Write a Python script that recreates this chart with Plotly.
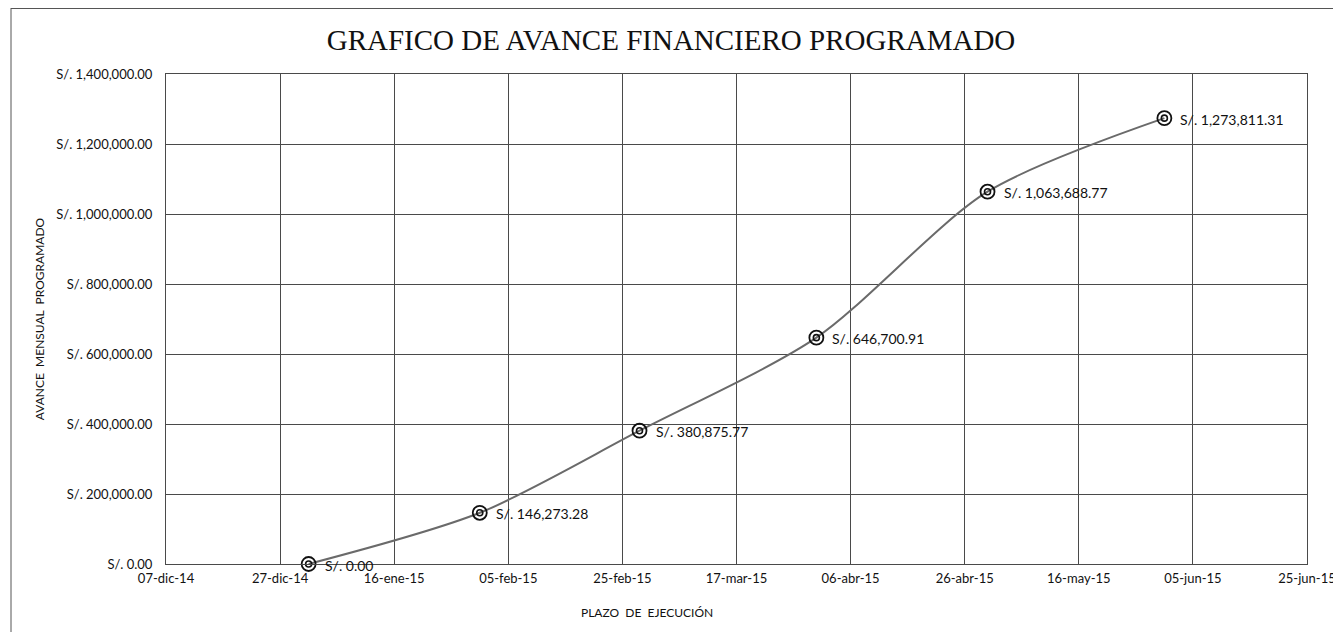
import plotly.graph_objects as go

fechas = ["2015-01-01", "2015-01-31", "2015-02-28", "2015-03-31", "2015-04-30", "2015-05-31"]
avance = [0.00, 146273.28, 380875.77, 646700.91, 1063688.77, 1273811.31]
etiquetas = ["S/. 0.00", "S/. 146,273.28", "S/. 380,875.77", "S/. 646,700.91",
             "S/. 1,063,688.77", "S/. 1,273,811.31"]

x_tickvals = ["2014-12-07", "2014-12-27", "2015-01-16", "2015-02-05", "2015-02-25",
              "2015-03-17", "2015-04-06", "2015-04-26", "2015-05-16", "2015-06-05", "2015-06-25"]
x_ticktext = ["07-dic-14", "27-dic-14", "16-ene-15", "05-feb-15", "25-feb-15",
              "17-mar-15", "06-abr-15", "26-abr-15", "16-may-15", "05-jun-15", "25-jun-15"]
y_tickvals = [0, 200000, 400000, 600000, 800000, 1000000, 1200000, 1400000]
y_ticktext = ["S/. 0.00", "S/. 200,000.00", "S/. 400,000.00", "S/. 600,000.00",
              "S/. 800,000.00", "S/. 1,000,000.00", "S/. 1,200,000.00", "S/. 1,400,000.00"]

fig = go.Figure()
fig.add_trace(go.Scatter(
    x=fechas, y=avance, mode="lines+markers",
    line=dict(shape="spline", smoothing=0.8, color="#6a6a6a", width=2),
    marker=dict(symbol="circle-open", size=14, color="#111111",
                line=dict(width=1.8, color="#111111")),
    cliponaxis=False, showlegend=False, hoverinfo="skip",
))
fig.add_trace(go.Scatter(
    x=fechas, y=avance, mode="markers",
    marker=dict(symbol="circle-open", size=6, color="#111111",
                line=dict(width=1.6, color="#111111")),
    cliponaxis=False, showlegend=False,
))

# data labels to the right of each point
for fx, fy, txt in zip(fechas, avance, etiquetas):
    fig.add_annotation(x=fx, y=fy, xref="x", yref="y", text=txt,
                       xanchor="left", yanchor="middle", xshift=14, yshift=-1,
                       showarrow=False,
                       font=dict(family="Lato", size=14, color="#111111"))

# figure is placed by the page with an 8px body margin
W, H = 1333, 624
L, R, T, B = 158, 34, 66, 68
pw, ph = W - L - R, H - T - B

grid = "#4a4a4a"
fig.update_layout(
    width=W, height=H,
    margin=dict(l=L, r=R, t=T, b=B),
    paper_bgcolor="white", plot_bgcolor="white",
    title=dict(text="GRAFICO DE AVANCE FINANCIERO PROGRAMADO",
               font=dict(family="Liberation Serif", size=29, color="#111111"),
               x=(671 - 8) / W, xanchor="center", y=1 - (40 - 8) / H, yanchor="middle"),
    xaxis=dict(type="date", range=["2014-12-07", "2015-06-25"],
               tickvals=x_tickvals, ticktext=x_ticktext,
               tickfont=dict(family="Lato", size=13, color="#111111"),
               showgrid=True, gridcolor=grid, gridwidth=1,
               showline=True, linecolor=grid, linewidth=1, mirror=True,
               ticks="outside", ticklen=2, tickcolor="white",
               zeroline=False, automargin=False),
    yaxis=dict(range=[0, 1400000],
               tickvals=y_tickvals, ticktext=y_ticktext,
               tickfont=dict(family="Lato", size=13, color="#111111"),
               showgrid=True, gridcolor=grid, gridwidth=1,
               showline=True, linecolor=grid, linewidth=1, mirror=True,
               ticks="outside", ticklen=10, tickcolor="white",
               zeroline=False, automargin=False,
               title=dict(text="AVANCE  MENSUAL  PROGRAMADO", standoff=9,
                          font=dict(family="Lato", size=12, color="#111111"))),
)

fig.add_annotation(text="PLAZO  DE  EJECUCIÓN", xref="paper", yref="paper",
                   x=(647 - 8 - L) / pw, y=-(612 - 8 - (T + ph)) / ph,
                   xanchor="center", yanchor="middle", showarrow=False,
                   font=dict(family="Lato", size=12, color="#111111"))

# outer chart border (top and left visible, extends past the canvas)
bx = (11 - 8 - L) / pw
by = (T + ph) / ph
fig.add_shape(type="line", xref="paper", yref="paper",
              x0=bx, x1=1.05, y0=by - 0.5 / ph, y1=by - 0.5 / ph,
              line=dict(color="#555555", width=1))
fig.add_shape(type="line", xref="paper", yref="paper",
              x0=bx, x1=bx, y0=by, y1=-0.2,
              line=dict(color="#555555", width=1))

fig.write_html("out.html")
